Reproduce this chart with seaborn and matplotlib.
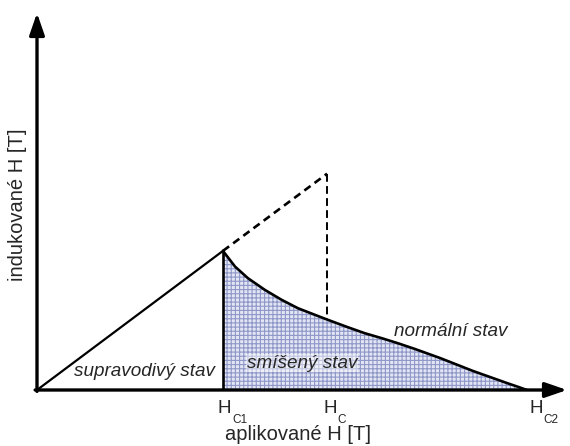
import numpy as np
import pandas as pd
import matplotlib
matplotlib.use("Agg")
import matplotlib.pyplot as plt
import seaborn as sns

# kriticka pole (v jednotkach H_C1)
h_c1 = 1.0
h_c = 1.56
h_c2 = 2.634

# supravodivy stav - primka z pocatku
meissner_x = [0.0, 1.0]
meissner_y = [0.0, 1.0]

# prodlouzeni primky az k H_C (carkovane)
extrap_x = [1.0, 1.56]
extrap_y = [1.0, 1.555]

# smiseny stav - klesajici krivka
mixed_x = [1.0, 1.065, 1.134, 1.226, 1.317, 1.403, 1.495, 1.565, 1.672,
           1.763, 1.855, 1.941, 2.032, 2.167, 2.344, 2.527, 2.597, 2.634]
mixed_y = [1.0, 0.887, 0.804, 0.719, 0.647, 0.588, 0.540, 0.504, 0.451,
           0.408, 0.372, 0.336, 0.295, 0.230, 0.137, 0.050, 0.018, 0.0]

tick_pos = [h_c1, h_c, h_c2]
tick_sub = ["C1", "C", "C2"]
tick_dx = [-5, -4, 3]

sns.set_theme(style="white")
plt.rcParams['font.family'] = ['Liberation Sans', 'DejaVu Sans']
plt.rcParams['hatch.linewidth'] = 0.8

fig = plt.figure(figsize=(5.7, 4.46), dpi=100)
ax = fig.add_axes([37 / 570, 56 / 446, 530 / 570, 377 / 446])
ax.set_xlim(0, 2.85)
ax.set_ylim(0, 2.71)
ax.axis("off")

# vyplneni oblasti smiseneho stavu
ax.fill_between(mixed_x, mixed_y, 0, facecolor="#e2e5f3", edgecolor="#8f97c8",
                hatch="++++", linewidth=0, zorder=1)

# vertikalni carkovana cara v H_C
sns.lineplot(x=[h_c, h_c], y=[extrap_y[-1], 0], ax=ax, color="black", lw=1.4,
             linestyle=(0, (4, 2.2)), sort=False, estimator=None, zorder=0)

sns.lineplot(x=meissner_x, y=meissner_y, ax=ax, color="black", lw=1.6,
             sort=False, estimator=None, zorder=3)
sns.lineplot(x=extrap_x, y=extrap_y, ax=ax, color="black", lw=1.9,
             linestyle=(0, (2.9, 1.9)), sort=False, estimator=None, zorder=3)
sns.lineplot(x=mixed_x, y=mixed_y, ax=ax, color="black", lw=1.9,
             sort=False, estimator=None, zorder=3)
sns.lineplot(x=[h_c1, h_c1], y=[1.0, 0.0], ax=ax, color="black", lw=1.9,
             sort=False, estimator=None, zorder=3)

# osy se sipkami
arrow = dict(arrowstyle="-|>,head_length=1.1,head_width=0.38", lw=2.4,
             color="black", shrinkA=0, shrinkB=0)
ax.annotate("", xy=(2.85, 0), xytext=(-0.01, 0), arrowprops=arrow,
            annotation_clip=False, zorder=5)
ax.annotate("", xy=(0, 2.71), xytext=(0, -0.01), arrowprops=arrow,
            annotation_clip=False, zorder=5)

# popisky na ose x
for pos, sub, dx in zip(tick_pos, tick_sub, tick_dx):
    ax.annotate("H", xy=(pos, 0), xytext=(dx, -23), textcoords="offset pixels",
                ha="left", va="baseline", fontsize=13.5, annotation_clip=False)
    ax.annotate(sub, xy=(pos, 0), xytext=(dx + 14, -33), textcoords="offset pixels",
                ha="left", va="baseline", fontsize=8.5, annotation_clip=False)

ax.text(0.58, 0.13, "supravodivý stav", style="italic", fontsize=13.6,
        ha="center", va="center", zorder=4)
ax.text(1.425, 0.194, "smíšený stav", style="italic", fontsize=13.6,
        ha="center", va="center", zorder=4,
        bbox=dict(boxstyle="square,pad=0.05", fc="white", ec="none", alpha=0.45))
ax.text(2.226, 0.424, "normální stav", style="italic", fontsize=13.6,
        ha="center", va="center", zorder=4)

fig.text(298 / 570, 1 - 434 / 446, "aplikované H [T]", fontsize=14.5,
         ha="center", va="center")
fig.text(18 / 570, 1 - 205 / 446, "indukované H [T]", fontsize=14.5,
         ha="center", va="center", rotation=90)

fig.savefig("out.png", dpi=100)
